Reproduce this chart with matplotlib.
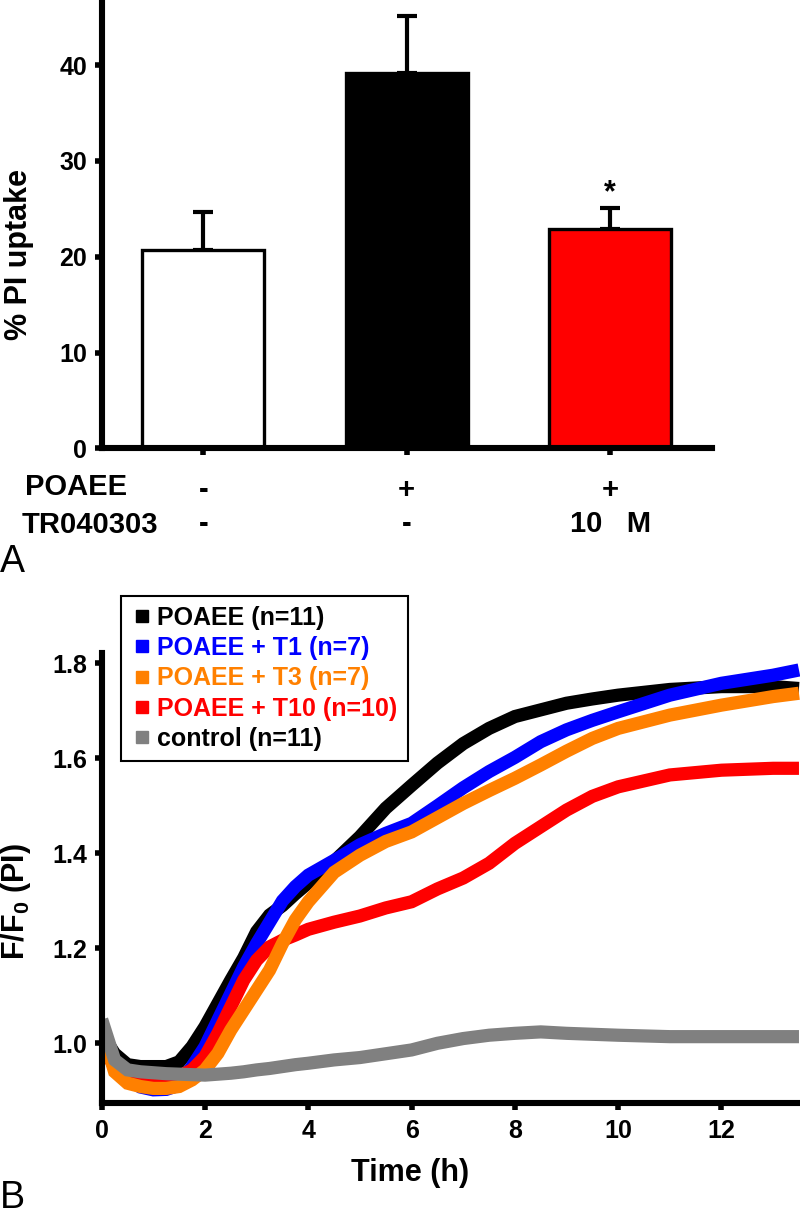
import numpy as np
import matplotlib
matplotlib.use("Agg")
import matplotlib.pyplot as plt
from matplotlib.lines import Line2D
import matplotlib.transforms as mtransforms

plt.rcParams['font.family'] = ['Liberation Sans', 'DejaVu Sans']
plt.rcParams['mathtext.fontset'] = 'custom'
plt.rcParams['mathtext.rm'] = 'Liberation Sans:bold'
plt.rcParams['mathtext.default'] = 'rm'

# ---- panel A data
groups = ['ctrl', 'POAEE', 'POAEE + TR']
pi_uptake = [20.7, 39.2, 22.9]
pi_err = [4.0, 5.9, 2.2]
bar_colors = ['white', 'black', '#FF0000']
poaee_row = ['-', '+', '+']
tr_row = ['-', '-', '10   M']

# ---- panel B data (time in h, F/F0)
t_h = [0, 0.25, 0.5, 0.75, 1.0, 1.25, 1.5, 1.75, 2.0, 2.25, 2.5, 2.75, 3.0, 3.25,
       3.5, 3.75, 4.0, 4.5, 5.0, 5.5, 6.0, 6.5, 7.0, 7.5, 8.0, 8.5, 9.0, 9.5,
       10.0, 11.0, 12.0, 13.0, 13.5]
poaee = [1.02, 0.978, 0.955, 0.951, 0.951, 0.951, 0.961, 0.993, 1.035, 1.084, 1.133,
         1.18, 1.235, 1.27, 1.29, 1.315, 1.338, 1.383, 1.435, 1.495, 1.543, 1.59,
         1.631, 1.663, 1.688, 1.702, 1.716, 1.725, 1.733, 1.745, 1.751, 1.751, 1.747]
poaee_t1 = [1.0, 0.952, 0.925, 0.908, 0.902, 0.903, 0.912, 0.951, 0.993, 1.049, 1.105,
            1.161, 1.21, 1.255, 1.30, 1.33, 1.354, 1.385, 1.418, 1.442, 1.463, 1.5,
            1.538, 1.572, 1.602, 1.635, 1.66, 1.68, 1.698, 1.733, 1.758, 1.775, 1.786]
poaee_t3 = [1.03, 0.94, 0.916, 0.909, 0.905, 0.905, 0.909, 0.923, 0.944, 0.979, 1.028,
            1.07, 1.112, 1.154, 1.21, 1.26, 1.298, 1.36, 1.396, 1.425, 1.445, 1.475,
            1.505, 1.532, 1.558, 1.586, 1.615, 1.642, 1.663, 1.691, 1.712, 1.73, 1.737]
poaee_t10 = [1.0, 0.95, 0.93, 0.925, 0.923, 0.923, 0.93, 0.944, 0.972, 1.021, 1.077,
             1.133, 1.175, 1.203, 1.217, 1.228, 1.24, 1.255, 1.268, 1.285, 1.298, 1.325,
             1.348, 1.379, 1.421, 1.456, 1.491, 1.52, 1.54, 1.565, 1.575, 1.579, 1.579]
control = [1.05, 0.965, 0.944, 0.94, 0.938, 0.936, 0.935, 0.934, 0.933, 0.935, 0.937,
           0.94, 0.944, 0.947, 0.951, 0.955, 0.958, 0.965, 0.97, 0.978, 0.986, 1.0,
           1.01, 1.017, 1.021, 1.024, 1.021, 1.019, 1.017, 1.014, 1.014, 1.014, 1.014]

series_labels = ['POAEE (n=11)', 'POAEE + T1 (n=7)', 'POAEE + T3 (n=7)',
                 'POAEE + T10 (n=10)', 'control (n=11)']
series_colors = ['black', '#0000FF', '#FF8000', '#FF0000', '#808080']

fig = plt.figure(figsize=(8, 12.16), dpi=100)

def style_axes(ax):
    for s in ['top', 'right']:
        ax.spines[s].set_visible(False)
    for s in ['left', 'bottom']:
        ax.spines[s].set_linewidth(4.4)
    ax.tick_params(direction='out', length=5, width=4, labelsize=18)
    for lab in ax.get_xticklabels() + ax.get_yticklabels():
        lab.set_fontweight('bold')

# ================= A
axA = fig.add_axes([0.1269, 0.6312, 0.763, 0.3688])
x = np.arange(len(groups))
axA.bar(x, pi_uptake, width=0.6, color=bar_colors, edgecolor='black', linewidth=2.4, zorder=2)
axA.errorbar(x, pi_uptake, yerr=[np.zeros(len(x)), pi_err], fmt='none', ecolor='black',
             elinewidth=3, capsize=7, capthick=3, zorder=1)
axA.text(2, pi_uptake[2] + pi_err[2] + 1.5, '*', ha='center', va='center',
         fontsize=22, fontweight='bold')
axA.set_xlim(-0.5, 2.5)
axA.set_ylim(0, 46.8)
axA.set_yticks([0, 10, 20, 30, 40])
axA.set_xticks(x)
axA.set_xticklabels([])
style_axes(axA)
axA.tick_params(axis='y', pad=5.5)

trans = mtransforms.blended_transform_factory(axA.transData, fig.transFigure)
for i in range(len(groups)):
    axA.text(x[i], 1 - 490 / 1216, poaee_row[i], transform=trans, ha='center', va='center',
             fontsize=21, fontweight='bold')
    axA.text(x[i], 1 - 524 / 1216, tr_row[i], transform=trans, ha='center', va='center',
             fontsize=21, fontweight='bold')
fig.text(25 / 800, 1 - 487 / 1216, 'POAEE', ha='left', va='center', fontsize=21, fontweight='bold')
fig.text(22 / 800, 1 - 525 / 1216, 'TR040303', ha='left', va='center', fontsize=21, fontweight='bold')
fig.text(19 / 800, 1 - 255 / 1216, '% PI uptake', rotation=90, ha='center', va='center',
         fontsize=22, fontweight='bold')
fig.text(0.0, 1 - 572 / 1216, 'A', ha='left', va='baseline', fontsize=27)

# ================= B
axB = fig.add_axes([0.1271, 0.0932, 0.8729, 0.3695])
for y, c in zip([poaee, poaee_t1, poaee_t10, poaee_t3, control],
                ['black', '#0000FF', '#FF0000', '#FF8000', '#808080']):
    axB.plot(t_h, y, color=c, linewidth=9.5, solid_capstyle='butt', solid_joinstyle='miter')
axB.set_xlim(0, 13.52)
axB.set_ylim(0.875, 1.821)
axB.set_xticks([0, 2, 4, 6, 8, 10, 12])
axB.set_yticks([1.0, 1.2, 1.4, 1.6, 1.8])
axB.set_yticklabels(['%.1f' % v for v in [1.0, 1.2, 1.4, 1.6, 1.8]])
style_axes(axB)
axB.tick_params(axis='y', pad=5.5)
axB.tick_params(axis='x', pad=7)

handles = [Line2D([], [], linestyle='none', marker='s', markersize=8.5, color=c) for c in series_colors]
leg = axB.legend(handles, series_labels, loc='upper left', bbox_to_anchor=(121 / 800, 1 - 596 / 1216),
                 bbox_transform=fig.transFigure, prop={'weight': 'bold', 'size': 18},
                 labelcolor=['black', '#0000FF', '#FF8000', '#FF0000', 'black'],
                 frameon=True, fancybox=False, framealpha=1, edgecolor='black',
                 handlelength=0.9, handletextpad=0.15, borderpad=0.4, labelspacing=0.25,
                 borderaxespad=0)
leg.get_frame().set_linewidth(1.5)

fig.text(410 / 800, 1 - 1181 / 1216, 'Time (h)', ha='center', va='baseline', fontsize=22, fontweight='bold')
fig.text(16 / 800, 1 - 902 / 1216, r'F/F$_0$ (PI)', rotation=90, ha='center', va='center',
         fontsize=22, fontweight='bold')
fig.text(0.0, 0.0, 'B', ha='left', va='bottom', fontsize=27)

fig.savefig('out.png', dpi=100)
